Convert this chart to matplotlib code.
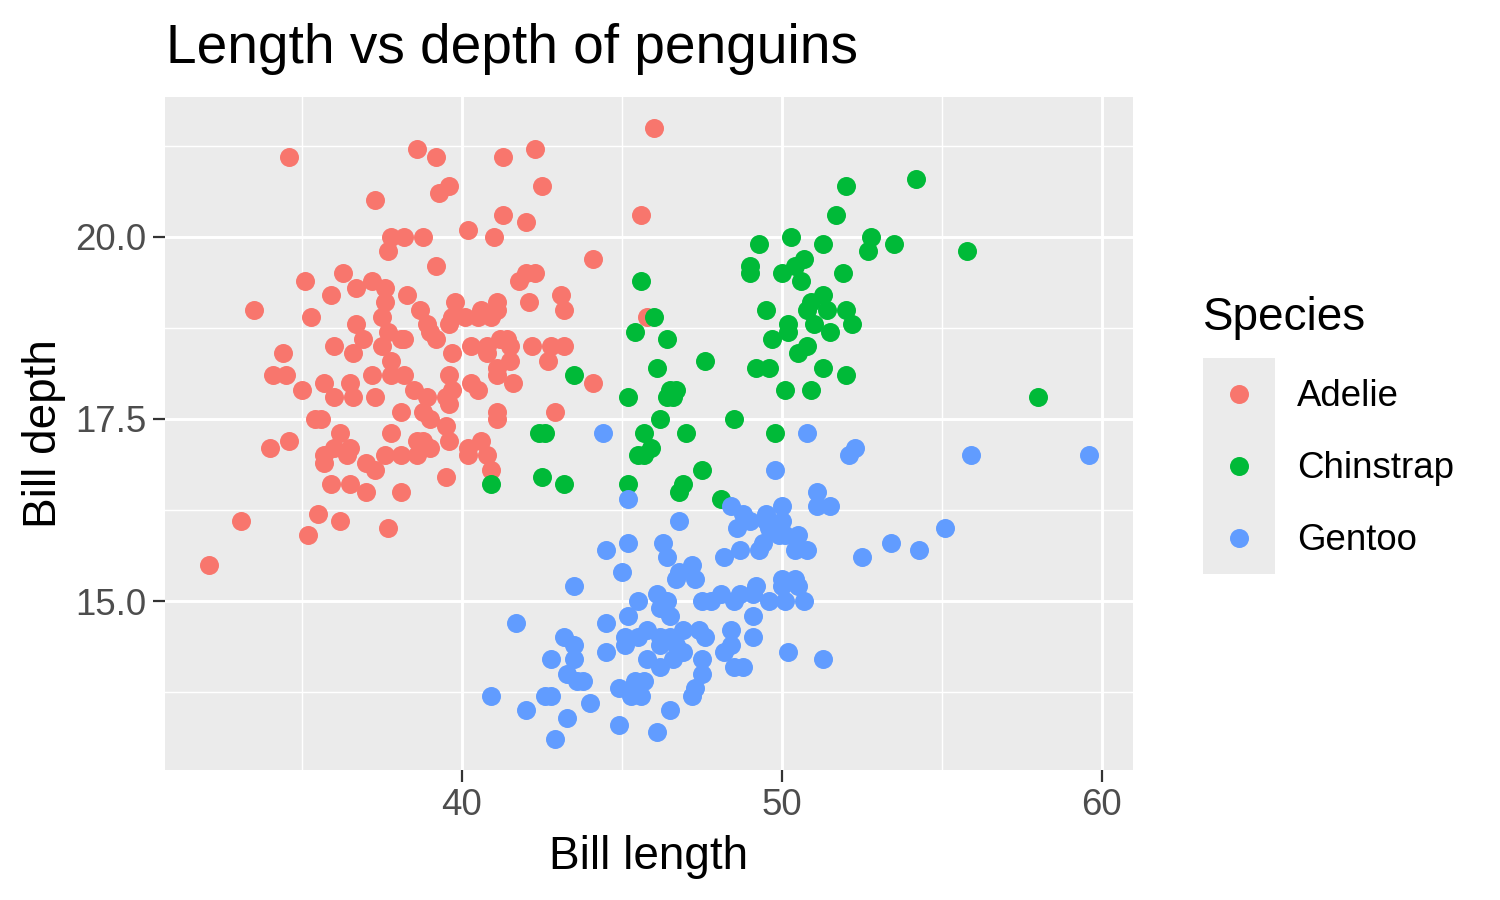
import matplotlib
matplotlib.use("Agg")
import matplotlib.pyplot as plt

# ---------------- data ----------------
adelie_length = [34.6, 38.6, 37.3, 37.8, 38.2, 38.8, 37.7, 35.1, 36.3, 35.9, 36.7, 37.2, 37.6, 37.6,
                 38.3, 33.5, 35.3, 37.5, 38.7, 36.7, 37.7, 38.1, 36.9, 34.4, 36.0, 36.6, 37.5, 38.9,
                 46.0, 39.2, 41.3, 42.3, 39.6, 39.3, 42.5, 41.3, 42.0, 45.6, 40.2, 41.0, 39.2, 44.1,
                 41.8, 42.0, 42.3, 43.1, 43.2, 42.1, 39.8, 41.1, 40.6, 41.1, 40.1, 39.7, 39.6, 39.0,
                 39.2, 38.2, 40.5, 40.9, 39.7, 40.3, 40.8, 41.2, 41.4, 41.5, 42.2, 42.8, 43.2, 45.8,
                 34.1, 34.5, 35.0, 37.8, 35.7, 36.0, 36.5, 36.6, 37.2, 37.3, 37.8, 38.2, 38.5, 38.9,
                 38.1, 38.8, 35.4, 35.6, 34.0, 34.6, 36.2, 36.0, 36.5, 35.7, 35.7, 36.4, 37.0, 37.3,
                 37.8, 37.6, 38.1, 38.6, 38.6, 35.9, 36.5, 37.0, 38.1, 33.1, 35.5, 36.2, 35.2, 37.7,
                 32.1, 40.8, 41.5, 41.1, 41.1, 41.6, 42.7, 44.1, 42.9, 39.6, 39.7, 39.5, 39.6, 40.3,
                 40.5, 41.1, 41.1, 39.0, 39.5, 39.6, 38.8, 39.0, 40.2, 40.6, 40.8, 40.2, 40.9, 39.5]
adelie_depth = [21.1, 21.2, 20.5, 20.0, 20.0, 20.0, 19.8, 19.4, 19.5, 19.2, 19.3, 19.4, 19.3, 19.1,
                19.2, 19.0, 18.9, 18.9, 19.0, 18.8, 18.7, 18.6, 18.6, 18.4, 18.5, 18.4, 18.5, 18.8,
                21.5, 21.1, 21.1, 21.2, 20.7, 20.6, 20.7, 20.3, 20.2, 20.3, 20.1, 20.0, 19.6, 19.7,
                19.4, 19.5, 19.5, 19.2, 19.0, 19.1, 19.1, 19.1, 19.0, 19.0, 18.9, 18.9, 18.8, 18.7,
                18.6, 18.6, 18.9, 18.9, 18.4, 18.5, 18.5, 18.6, 18.6, 18.5, 18.5, 18.5, 18.5, 18.9,
                18.1, 18.1, 17.9, 18.3, 18.0, 17.8, 18.0, 17.8, 18.1, 17.8, 18.1, 18.1, 17.9, 17.8,
                17.6, 17.6, 17.5, 17.5, 17.1, 17.2, 17.3, 17.1, 17.1, 17.0, 16.9, 17.0, 16.9, 16.8,
                17.3, 17.0, 17.0, 17.2, 17.0, 16.6, 16.6, 16.5, 16.5, 16.1, 16.2, 16.1, 15.9, 16.0,
                15.5, 18.4, 18.3, 18.2, 18.1, 18.0, 18.3, 18.0, 17.6, 18.1, 17.9, 17.8, 17.7, 18.0,
                17.9, 17.6, 17.5, 17.5, 17.4, 17.2, 17.2, 17.1, 17.1, 17.2, 17.0, 17.0, 16.8, 16.7]

chinstrap_length = [52.0, 51.7, 49.3, 50.3, 51.3, 52.8, 52.7, 49.0, 49.0, 50.0, 50.4, 50.7, 50.6, 51.9,
                    45.6, 46.0, 45.4, 46.4, 47.6, 46.1, 45.2, 46.5, 46.7, 46.4, 46.6, 49.5, 50.9, 51.3,
                    50.8, 51.4, 52.0, 50.2, 50.2, 51.0, 51.5, 52.2, 49.7, 50.5, 50.8, 49.2, 49.6, 51.3,
                    52.0, 50.1, 50.9, 46.2, 48.5, 45.7, 47.0, 49.8, 45.9, 45.5, 45.7, 47.5, 45.2, 46.9,
                    46.8, 48.1, 43.5, 42.4, 42.6, 42.5, 43.2, 40.9, 54.2, 55.8, 58.0, 53.5]
chinstrap_depth = [20.7, 20.3, 19.9, 20.0, 19.9, 20.0, 19.8, 19.6, 19.5, 19.5, 19.6, 19.7, 19.4, 19.5,
                   19.4, 18.9, 18.7, 18.6, 18.3, 18.2, 17.8, 17.9, 17.9, 17.8, 17.8, 19.0, 19.1, 19.2,
                   19.0, 19.0, 19.0, 18.8, 18.7, 18.8, 18.7, 18.8, 18.6, 18.4, 18.5, 18.2, 18.2, 18.2,
                   18.1, 17.9, 17.9, 17.5, 17.5, 17.3, 17.3, 17.3, 17.1, 17.0, 17.0, 16.8, 16.6, 16.6,
                   16.5, 16.4, 18.1, 17.3, 17.3, 16.7, 16.6, 16.6, 20.8, 19.8, 17.8, 19.9]

gentoo_length = [44.4, 45.2, 50.8, 49.8, 52.1, 52.3, 51.1, 55.9, 59.6, 46.8, 44.5, 45.2, 46.3, 46.4,
                 45.0, 46.8, 47.2, 46.7, 47.3, 43.5, 46.1, 46.4, 46.2, 46.5, 45.5, 45.2, 47.5, 47.8,
                 48.1, 41.7, 44.5, 43.2, 43.5, 45.1, 45.1, 45.5, 45.8, 46.2, 46.5, 46.2, 46.7, 46.9,
                 47.4, 47.6, 46.9, 46.6, 45.8, 46.2, 42.8, 43.5, 44.5, 43.3, 43.6, 43.8, 47.5, 47.5,
                 47.3, 47.2, 40.9, 42.6, 42.8, 44.9, 45.4, 45.7, 45.3, 45.6, 42.0, 44.0, 43.3, 44.9,
                 46.5, 46.1, 42.9, 48.2, 48.2, 51.1, 51.5, 48.4, 48.8, 48.6, 49.0, 49.5, 50.0, 50.0,
                 49.5, 49.6, 49.9, 50.1, 49.4, 50.5, 48.7, 49.3, 50.4, 50.8, 52.5, 53.4, 54.3, 55.1,
                 50.0, 50.4, 50.0, 50.5, 49.2, 50.7, 50.1, 49.6, 49.1, 48.7, 48.5, 49.1, 48.4, 48.4,
                 49.1, 48.5, 48.8, 50.2, 51.3]
gentoo_depth = [17.3, 16.4, 17.3, 16.8, 17.0, 17.1, 16.5, 17.0, 17.0, 16.1, 15.7, 15.8, 15.8, 15.6,
                15.4, 15.4, 15.5, 15.3, 15.3, 15.2, 15.1, 15.0, 14.9, 14.8, 15.0, 14.8, 15.0, 15.0,
                15.1, 14.7, 14.7, 14.5, 14.4, 14.5, 14.4, 14.5, 14.6, 14.5, 14.5, 14.4, 14.4, 14.6,
                14.6, 14.5, 14.3, 14.2, 14.2, 14.1, 14.2, 14.2, 14.3, 14.0, 13.9, 13.9, 14.2, 14.0,
                13.8, 13.7, 13.7, 13.7, 13.7, 13.8, 13.9, 13.9, 13.7, 13.7, 13.5, 13.6, 13.4, 13.3,
                13.5, 13.2, 13.1, 15.6, 14.3, 16.3, 16.3, 16.3, 16.2, 16.0, 16.1, 16.2, 16.3, 16.1,
                16.1, 16.0, 15.9, 15.9, 15.8, 15.9, 15.7, 15.7, 15.7, 15.7, 15.6, 15.8, 15.7, 16.0,
                15.3, 15.3, 15.2, 15.2, 15.2, 15.0, 15.0, 15.0, 15.1, 15.1, 15.0, 14.8, 14.6, 14.4,
                14.5, 14.1, 14.1, 14.3, 14.2]

species = ["Adelie", "Chinstrap", "Gentoo"]
colors = ["#F8766D", "#00BA38", "#619CFF"]
x_ticks = [40, 50, 60]
y_ticks = [15.0, 17.5, 20.0]
x_minor = [35, 45, 55]
y_minor = [13.75, 16.25, 18.75, 21.25]

# ---------------- figure ----------------
plt.rcParams['font.family'] = ['Liberation Sans', 'DejaVu Sans']
W, H = 1500, 900
fig = plt.figure(figsize=(15, 9), dpi=100)
fig.patch.set_facecolor("white")

L, R, T, B = 165, 1133, 97, 770
ax = fig.add_axes([L / W, 1 - B / H, (R - L) / W, (B - T) / H])
ax.set_facecolor("#EBEBEB")
for s in ax.spines.values():
    s.set_visible(False)

series = [(adelie_length, adelie_depth), (chinstrap_length, chinstrap_depth),
          (gentoo_length, gentoo_depth)]
msize = (19 / 1.389) ** 2
for (xs, ys), c in zip(series, colors):
    ax.scatter(xs, ys, s=msize, color=c, linewidths=0, zorder=3)

xmin, xmax = 32.1, 59.6
ymin, ymax = 13.1, 21.5
dx = (xmax - xmin) * 0.05
dy = (ymax - ymin) * 0.05
ax.set_xlim(xmin - dx, xmax + dx)
ax.set_ylim(ymin - dy, ymax + dy)

ax.set_xticks(x_ticks)
ax.set_xticklabels([str(v) for v in x_ticks])
ax.set_yticks(y_ticks)
ax.set_yticklabels([f"{v:.1f}" for v in y_ticks])
ax.set_xticks(x_minor, minor=True)
ax.set_yticks(y_minor, minor=True)
ax.tick_params(which="major", length=8.3, width=1.6, color="#333333",
               labelsize=26.4, labelcolor="#4D4D4D", pad=5)
ax.tick_params(which="minor", length=0)
ax.grid(which="major", color="white", linewidth=2.1, zorder=0)
ax.grid(which="minor", color="white", linewidth=1.05, zorder=0)
ax.set_axisbelow(True)

# titles
fig.text(166 / W, 1 - 63 / H, "Length vs depth of penguins", fontsize=39.6,
         ha="left", va="baseline", color="black")
fig.text((L + R) / 2 / W, 1 - 869 / H, "Bill length", fontsize=33,
         ha="center", va="baseline", color="black")
fig.text(44 / W, 1 - (T + B) / 2 / H, "Bill depth", fontsize=33, rotation=90,
         ha="center", va="center", color="black")

# legend
lx0, lx1, ly0, ly1 = 1203, 1275, 358, 574
lax = fig.add_axes([lx0 / W, 1 - ly1 / H, (lx1 - lx0) / W, (ly1 - ly0) / H])
lax.set_facecolor("#EBEBEB")
for s in lax.spines.values():
    s.set_visible(False)
lax.set_xticks([])
lax.set_yticks([])
lax.set_xlim(0, 1)
lax.set_ylim(0, 3)
for i, (name, c) in enumerate(zip(species, colors)):
    yc = 2.5 - i
    lax.scatter([0.5], [yc], s=msize, color=c, linewidths=0)
    fig.text(1297 / W, 1 - (406.5 + 72 * i) / H, name, fontsize=26.4,
             ha="left", va="baseline", color="black")
fig.text(1203 / W, 1 - 330 / H, "Species", fontsize=33, ha="left",
         va="baseline", color="black")

fig.savefig("out.png", dpi=100, facecolor="white")
